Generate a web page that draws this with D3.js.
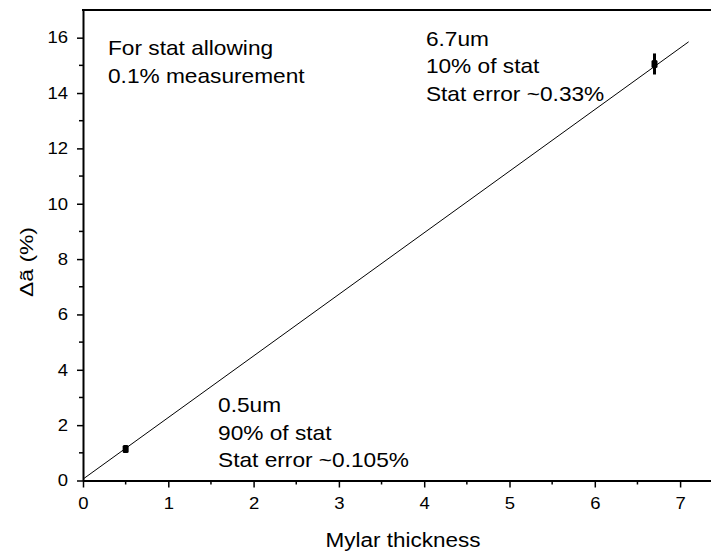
<!DOCTYPE html>
<html><head><meta charset="utf-8">
<script src="https://cdn.jsdelivr.net/npm/d3@7"></script>
<style>body{margin:0;background:#fff}svg{display:block}</style>
</head><body><svg id="c" width="711" height="552"></svg>
<script>
// data
const thickness = [0.5, 6.7];
const deltaA = [1.14, 15.05];
const deltaErr = [0.12, 0.38];
const fitX = [0, 7.1];
const fitY = [0.05, 15.85];
const xTicks = [0,1,2,3,4,5,6,7];
const yTicks = [0,2,4,6,8,10,12,14,16];
const notes = [
  {x:0.293, y:15.37, lines:["For stat allowing","0.1% measurement"]},
  {x:4.02, y:15.70, lines:["6.7um","10% of stat","Stat error ~0.33%"]},
  {x:1.583, y:2.475, lines:["0.5um","90% of stat","Stat error ~0.105%"]}
];

const FONT = "'Liberation Sans', Arial, sans-serif";
const svg = d3.select("#c");
const x = d3.scaleLinear().domain([0, 7.5]).range([83, 83 + 7.5*85.3]);
const y = d3.scaleLinear().domain([0, 17]).range([480.5, 10]);

function stretch(sel, f){
  sel.each(function(){
    const w = this.getComputedTextLength();
    d3.select(this).attr("textLength", w*f).attr("lengthAdjust","spacingAndGlyphs");
  });
}

// fit line
svg.append("line")
  .attr("x1", x(fitX[0])).attr("y1", y(fitY[0]))
  .attr("x2", x(fitX[1])).attr("y2", y(fitY[1]))
  .attr("stroke","#000").attr("stroke-width",1);

// error bars + markers
thickness.forEach((t,i)=>{
  svg.append("line").attr("x1",x(t)).attr("x2",x(t))
    .attr("y1",y(deltaA[i]-deltaErr[i])).attr("y2",y(deltaA[i]+deltaErr[i]))
    .attr("stroke","#000").attr("stroke-width",3);
  svg.append("rect").attr("x",x(t)-3).attr("y",y(deltaA[i])-4)
    .attr("width",6).attr("height",8).attr("rx",1.5).attr("fill","#000");
});

// axes
const xAxisG = svg.append("g").attr("transform","translate(0,480.5)");
const yAxisG = svg.append("g").attr("transform","translate(83,0)");
const xMinor = d3.range(0.5, 7.5, 1);
const yMinor = d3.range(1, 17, 2);
xAxisG.selectAll(".mx").data(xMinor).join("line")
  .attr("x1",d=>x(d)).attr("x2",d=>x(d)).attr("y1",0).attr("y2",4).attr("stroke","#000").attr("stroke-width",1.5);
yAxisG.selectAll(".my").data(yMinor).join("line")
  .attr("y1",d=>y(d)).attr("y2",d=>y(d)).attr("x1",0).attr("x2",-4).attr("stroke","#000").attr("stroke-width",1.5);

const xa = d3.axisBottom(x).tickValues(xTicks).tickFormat(d3.format("d")).tickSize(7).tickSizeOuter(0).tickPadding(10);
const ya = d3.axisLeft(y).tickValues(yTicks).tickFormat(d3.format("d")).tickSize(6).tickSizeOuter(0).tickPadding(9);
xAxisG.call(xa);
yAxisG.call(ya);
[xAxisG, yAxisG].forEach(g=>{
  g.attr("font-size",16.5).attr("font-family",FONT);
  g.select(".domain").attr("stroke","#000").attr("stroke-width",2);
  g.selectAll(".tick line").attr("stroke","#000").attr("stroke-width",1.5);
  g.selectAll(".tick text").attr("fill","#000");
  stretch(g.selectAll(".tick text"), 1.12);
});
// top border
svg.append("line").attr("x1",82).attr("x2",711).attr("y1",y(17)).attr("y2",y(17))
  .attr("stroke","#000").attr("stroke-width",2);

// titles
const xt = svg.append("text").attr("x",403).attr("y",547).attr("text-anchor","middle")
  .attr("font-family",FONT).attr("font-size",19.5).text("Mylar thickness");
xt.attr("textLength",155).attr("lengthAdjust","spacingAndGlyphs");
const yt = svg.append("text").attr("transform","translate(33,262) rotate(-90)").attr("text-anchor","middle")
  .attr("font-family",FONT).attr("font-size",18).text("Δã (%)");
yt.attr("textLength",70).attr("lengthAdjust","spacingAndGlyphs");

// annotations
notes.forEach(n=>{
  n.lines.forEach((l,i)=>{
    const t = svg.append("text").attr("x",x(n.x)).attr("y",y(n.y)+i*27.5)
      .attr("font-family",FONT).attr("font-size",21).attr("fill","#000").text(l);
    stretch(t, 1.08);
  });
});
</script></body></html>
